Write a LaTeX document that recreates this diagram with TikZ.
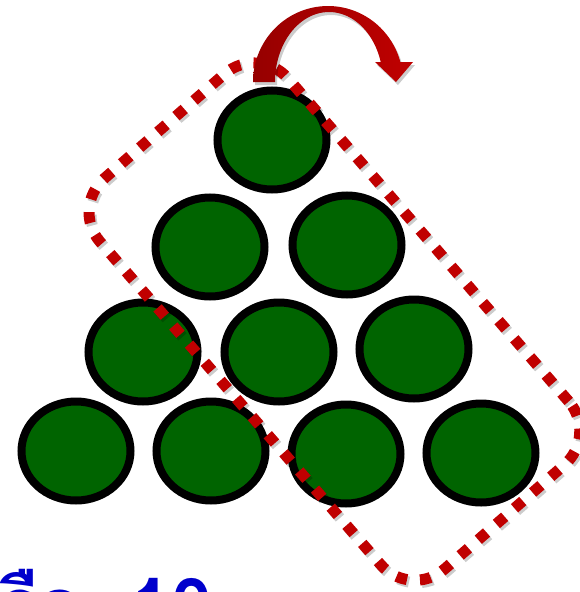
\documentclass[tikz,border=0pt]{standalone}
\usepackage{fontspec}
\newfontfamily\thaifont[Script=Thai]{Loma}
\usetikzlibrary{shadows,shapes.geometric}
\definecolor{cgreen}{HTML}{006400}
\definecolor{cred}{HTML}{C00000}
\definecolor{cdred}{HTML}{960000}
\definecolor{cblue}{HTML}{0000CC}
\begin{document}
\begin{tikzpicture}[x=1pt,y=-1pt,
  ball/.style={ellipse, draw=black, line width=8pt, fill=cgreen,
    minimum width=109pt, minimum height=99pt, inner sep=0pt,
    drop shadow={shadow xshift=2pt, shadow yshift=-2.5pt, opacity=.3}},
  framebox/.style={rectangle, rounded corners=45pt, line width=11pt,
    dash pattern=on 11pt off 13pt, minimum width=518pt, minimum height=249pt,
    inner sep=0pt, rotate=-49},
  bigtext/.style={text=cblue, font=\thaifont\bfseries\fontsize{74}{74}\selectfont, inner sep=0pt}]
\useasboundingbox (0,0) rectangle (580,592);
% balls
\node[ball] (b1) at (272,140) {};
\node[ball] (b2) at (210,247) {};
\node[ball] (b3) at (347,245) {};
\node[ball] (b4) at (143,352) {};
\node[ball] (b5) at (279,352) {};
\node[ball] (b6) at (414,349) {};
\node[ball] (b7) at (76,451) {};
\node[ball] (b8) at (211,451) {};
\node[ball] (b9) at (346,454) {};
\node[ball] (b10) at (481,453) {};
% dotted frame with shadow
\node[framebox, draw=black, opacity=.2] (frs) at (336.4,324.1) {};
\node[framebox, draw=cred] (fr) at (334.4,321.6) {};
% curved arrow
\fill[black, opacity=.2, shift={(2,3)}]
  plot[domain=180:15.25, samples=50] ({328+75*cos(\x)}, {82-76*sin(\x)})
  -- (413,62) -- (396,82) -- (375,62) -- (380.7,62)
  -- plot[domain=16.6:180, samples=50] ({329+54*cos(\x)}, {82-70*sin(\x)}) -- cycle;
\shade[left color=cdred, middle color=cred, right color=cred]
  plot[domain=180:15.25, samples=50] ({328+75*cos(\x)}, {82-76*sin(\x)})
  -- (413,62) -- (396,82) -- (375,62) -- (380.7,62)
  -- plot[domain=16.6:180, samples=50] ({329+54*cos(\x)}, {82-70*sin(\x)}) -- cycle;
% text
\node[bigtext, anchor=base west] (t) at (-49,631) {หรือ \hspace{21pt}10};
\end{tikzpicture}
\end{document}
